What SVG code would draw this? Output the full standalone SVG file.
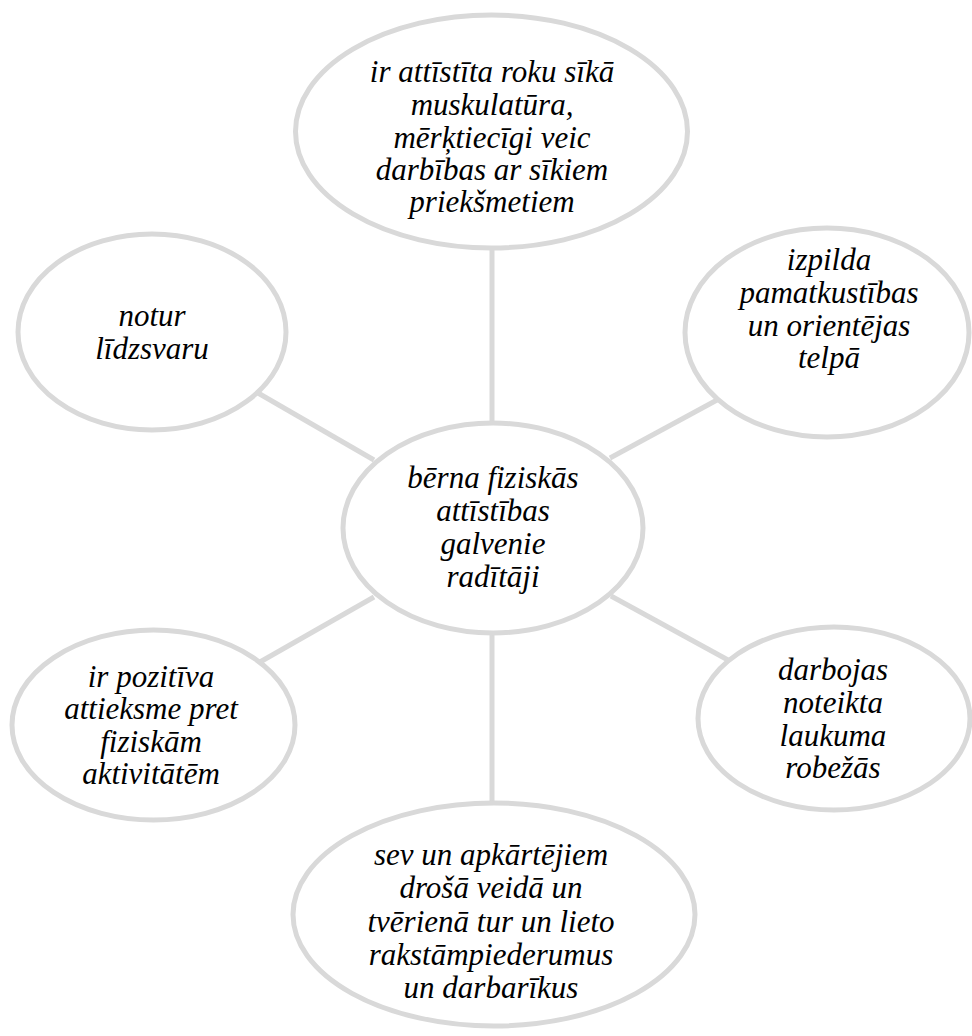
<svg xmlns="http://www.w3.org/2000/svg" width="972" height="1036" viewBox="0 0 972 1036">
<style>
.n{fill:#ffffff;stroke:#d9d9d9;stroke-width:5}
.c{stroke:#d9d9d9;stroke-width:5;fill:none}
text{font-family:"Liberation Serif","Times New Roman",serif;font-style:italic;font-size:31px;fill:#000;text-anchor:middle}
</style>
<rect width="972" height="1036" fill="#ffffff"/>
<g id="connectors">
<line class="c" x1="492" y1="248" x2="492" y2="424"/>
<line class="c" x1="258" y1="393" x2="374" y2="460"/>
<line class="c" x1="717" y1="400" x2="610" y2="458"/>
<line class="c" x1="260" y1="662" x2="374" y2="597"/>
<line class="c" x1="728" y1="660" x2="611" y2="596"/>
<line class="c" x1="492" y1="632" x2="492" y2="804"/>
</g>
<g id="node-top">
<ellipse class="n" cx="491.5" cy="131.5" rx="196" ry="116.5"/>
<text x="492"><tspan x="492" y="82">ir attīstīta roku sīkā</tspan><tspan x="492" y="115">muskulatūra,</tspan><tspan x="492" y="148">mērķtiecīgi veic</tspan><tspan x="492" y="180">darbības ar sīkiem</tspan><tspan x="492" y="212">priekšmetiem</tspan></text>
</g>
<g id="node-left-top">
<ellipse class="n" cx="152" cy="332" rx="134" ry="98"/>
<text><tspan x="152" y="326">notur</tspan><tspan x="152" y="359">līdzsvaru</tspan></text>
</g>
<g id="node-right-top">
<ellipse class="n" cx="827" cy="332.5" rx="142" ry="104.5"/>
<text><tspan x="829" y="270">izpilda</tspan><tspan x="829" y="303">pamatkustības</tspan><tspan x="829" y="336">un orientējas</tspan><tspan x="829" y="368">telpā</tspan></text>
</g>
<g id="node-center">
<ellipse class="n" cx="493" cy="528" rx="150" ry="105"/>
<text><tspan x="493" y="488">bērna fiziskās</tspan><tspan x="493" y="521">attīstības</tspan><tspan x="493" y="554">galvenie</tspan><tspan x="493" y="587">radītāji</tspan></text>
</g>
<g id="node-left-bottom">
<ellipse class="n" cx="153.5" cy="725" rx="141.5" ry="95"/>
<text><tspan x="151" y="687">ir pozitīva</tspan><tspan x="151" y="719">attieksme pret</tspan><tspan x="151" y="752">fiziskām</tspan><tspan x="151" y="784">aktivitātēm</tspan></text>
</g>
<g id="node-right-bottom">
<ellipse class="n" cx="834" cy="718.5" rx="136" ry="91.5"/>
<text><tspan x="833" y="680">darbojas</tspan><tspan x="833" y="713">noteikta</tspan><tspan x="833" y="746">laukuma</tspan><tspan x="833" y="778">robežās</tspan></text>
</g>
<g id="node-bottom">
<ellipse class="n" cx="494" cy="914.5" rx="201" ry="111.5"/>
<text><tspan x="491" y="865">sev un apkārtējiem</tspan><tspan x="491" y="898">drošā veidā un</tspan><tspan x="491" y="932">tvērienā tur un lieto</tspan><tspan x="491" y="965">rakstāmpiederumus</tspan><tspan x="491" y="998">un darbarīkus</tspan></text>
</g>
</svg>
